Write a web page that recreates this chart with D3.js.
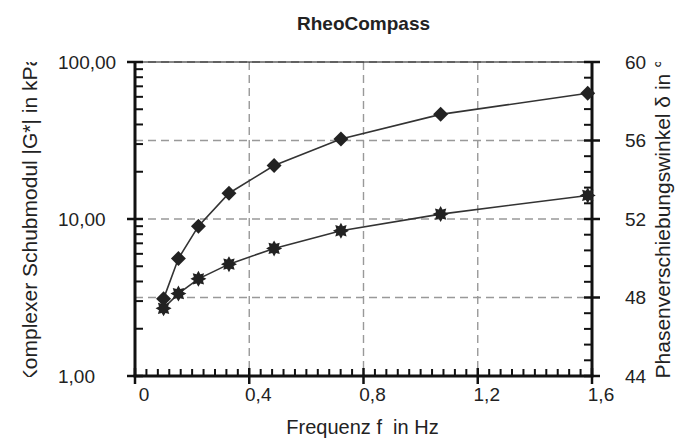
<!DOCTYPE html>
<html>
<head>
<meta charset="utf-8">
<script src="https://cdn.jsdelivr.net/npm/d3@7"></script>
<style>
  body { margin: 0; background: #fff; }
  svg text { font-family: "Liberation Sans", Arial, sans-serif; fill: #222; }
</style>
</head>
<body>
<div id="chart"></div>
<script>
// frequency in Hz
const freq = [0.1, 0.152, 0.222, 0.329, 0.487, 0.721, 1.07, 1.585];
// complex shear modulus |G*| in kPa (left, log)
const modulus = [3.1, 5.6, 9.0, 14.6, 21.9, 32.3, 46.4, 63.2];
// phase angle in degrees (right)
const phase = [47.45, 48.2, 48.95, 49.7, 50.5, 51.4, 52.25, 53.2];

const xTicks = [0, 0.4, 0.8, 1.2, 1.6];
const xTickLabels = ["0", "0,4", "0,8", "1,2", "1,6"];
const leftTicks = [1, 10, 100];
const leftTickLabels = ["1,00", "10,00", "100,00"];
const rightTicks = [44, 48, 52, 56, 60];

const width = 679, height = 448;
const plot = { left: 135, right: 592, top: 62, bottom: 376 };

const svg = d3.select("#chart").append("svg")
  .attr("width", width)
  .attr("height", height);

const x = d3.scaleLinear().domain([0, 1.6]).range([plot.left, plot.right]);
const yL = d3.scaleLog().domain([1, 100]).range([plot.bottom, plot.top]);
const yR = d3.scaleLinear().domain([44, 60]).range([plot.bottom, plot.top]);

// grid
const grid = svg.append("g")
  .attr("stroke", "#999")
  .attr("stroke-width", 1.4)
  .attr("stroke-dasharray", "8,5");
grid.selectAll("line.v").data(xTicks.slice(1, -1)).join("line")
  .attr("x1", d => x(d)).attr("x2", d => x(d))
  .attr("y1", plot.top).attr("y2", plot.bottom);
grid.selectAll("line.h").data(rightTicks.slice(1)).join("line")
  .attr("x1", plot.left).attr("x2", plot.right)
  .attr("y1", d => yR(d)).attr("y2", d => yR(d));

// top frame line
svg.append("line")
  .attr("x1", plot.left).attr("x2", plot.right)
  .attr("y1", plot.top).attr("y2", plot.top)
  .attr("stroke", "#111").attr("stroke-width", 1.2);

// axes lines
const axisG = svg.append("g").attr("stroke", "#111");
axisG.append("line").attr("x1", plot.left).attr("x2", plot.left)
  .attr("y1", plot.top).attr("y2", plot.bottom).attr("stroke-width", 3);
axisG.append("line").attr("x1", plot.right).attr("x2", plot.right)
  .attr("y1", plot.top).attr("y2", plot.bottom).attr("stroke-width", 3);
axisG.append("line").attr("x1", plot.left - 1.5).attr("x2", plot.right + 1.5)
  .attr("y1", plot.bottom).attr("y2", plot.bottom).attr("stroke-width", 3);

// x ticks
const xMinor = d3.range(0, 1.6001, 0.04).filter(v => Math.abs(v / 0.4 - Math.round(v / 0.4)) > 0.01);
axisG.selectAll("line.xmin").data(xMinor).join("line")
  .attr("stroke-width", 2)
  .attr("x1", d => x(d)).attr("x2", d => x(d))
  .attr("y1", plot.bottom).attr("y2", plot.bottom - 7);
axisG.selectAll("line.xmaj").data(xTicks).join("line")
  .attr("stroke-width", 2.5)
  .attr("x1", d => x(d)).attr("x2", d => x(d))
  .attr("y1", plot.bottom - 8).attr("y2", plot.bottom + 8);
svg.selectAll("text.xl").data(xTicks).join("text")
  .attr("x", d => x(d) + 9).attr("y", 401)
  .attr("text-anchor", "middle").attr("font-size", 19)
  .text((d, i) => xTickLabels[i]);

// left ticks (log)
const leftMinor = [];
[1, 10].forEach(dec => { for (let k = 2; k <= 9; k++) leftMinor.push(dec * k); });
axisG.selectAll("line.lmin").data(leftMinor).join("line")
  .attr("stroke-width", 2)
  .attr("x1", plot.left).attr("x2", plot.left + 8)
  .attr("y1", d => yL(d)).attr("y2", d => yL(d));
axisG.selectAll("line.lmaj").data(leftTicks).join("line")
  .attr("stroke-width", 2.5)
  .attr("x1", plot.left - 8).attr("x2", plot.left + 8)
  .attr("y1", d => yL(d)).attr("y2", d => yL(d));
svg.selectAll("text.ll").data(leftTicks).join("text")
  .attr("x", 58).attr("y", d => yL(d)).attr("dy", "0.36em")
  .attr("font-size", 19)
  .text((d, i) => leftTickLabels[i]);

// right ticks
const rightMinor = d3.range(44, 60.001, 0.8).filter(v => Math.abs((v - 44) / 4 - Math.round((v - 44) / 4)) > 0.01);
axisG.selectAll("line.rmin").data(rightMinor).join("line")
  .attr("stroke-width", 2)
  .attr("x1", plot.right - 8).attr("x2", plot.right)
  .attr("y1", d => yR(d)).attr("y2", d => yR(d));
axisG.selectAll("line.rmaj").data(rightTicks).join("line")
  .attr("stroke-width", 2.5)
  .attr("x1", plot.right - 8).attr("x2", plot.right + 8)
  .attr("y1", d => yR(d)).attr("y2", d => yR(d));
svg.selectAll("text.rl").data(rightTicks).join("text")
  .attr("x", 625).attr("y", d => yR(d)).attr("dy", "0.36em")
  .attr("font-size", 19)
  .text(d => d);

// series
const modData = freq.map((f, i) => [f, modulus[i]]);
const phData = freq.map((f, i) => [f, phase[i]]);

const lineL = d3.line().x(d => x(d[0])).y(d => yL(d[1]));
const lineR = d3.line().x(d => x(d[0])).y(d => yR(d[1]));

svg.append("path").datum(modData).attr("d", lineL)
  .attr("fill", "none").attr("stroke", "#333").attr("stroke-width", 1.6);
svg.append("path").datum(phData).attr("d", lineR)
  .attr("fill", "none").attr("stroke", "#333").attr("stroke-width", 1.6);

// 8-point star marker
const gear = {
  draw(ctx, size) {
    const ro = Math.sqrt(size) / 2, ri = ro * 0.62, n = 8;
    for (let i = 0; i < n * 2; i++) {
      const r = i % 2 === 0 ? ro : ri;
      const a = (i * Math.PI) / n - Math.PI / 2;
      const px = r * Math.cos(a), py = r * Math.sin(a);
      if (i === 0) ctx.moveTo(px, py); else ctx.lineTo(px, py);
    }
    ctx.closePath();
  }
};

svg.selectAll("path.star").data(phData).join("path")
  .attr("transform", d => `translate(${x(d[0])},${yR(d[1])})`)
  .attr("d", d3.symbol().type(gear).size(256))
  .attr("fill", "#222");

svg.selectAll("path.dia").data(modData).join("path")
  .attr("transform", d => `translate(${x(d[0])},${yL(d[1])}) rotate(45)`)
  .attr("d", d3.symbol().type(d3.symbolSquare).size(112))
  .attr("fill", "#222");

// title
svg.append("text")
  .attr("x", (plot.left + plot.right) / 2).attr("y", 30)
  .attr("text-anchor", "middle").attr("font-size", 19).attr("font-weight", "bold")
  .text("RheoCompass");

// x label
svg.append("text")
  .attr("x", (plot.left + plot.right) / 2 - 1).attr("y", 434)
  .attr("text-anchor", "middle").attr("font-size", 20)
  .text("Frequenz f\u00a0 in Hz");

// y labels, clipped to the plot height
svg.append("clipPath").attr("id", "yclip").append("rect")
  .attr("x", 0).attr("y", plot.top).attr("width", width).attr("height", plot.bottom - plot.top + 1);

const cy = (plot.top + plot.bottom) / 2;
svg.append("g").attr("clip-path", "url(#yclip)")
  .append("text")
  .attr("transform", `translate(37,${cy}) rotate(-90)`)
  .attr("text-anchor", "middle").attr("font-size", 21)
  .text("Komplexer Schubmodul |G*| in kPa");
svg.append("g").attr("clip-path", "url(#yclip)")
  .append("text")
  .attr("transform", `translate(670,${cy}) rotate(-90)`)
  .attr("text-anchor", "middle").attr("font-size", 21)
  .text("Phasenverschiebungswinkel δ in °");
</script>
</body>
</html>
